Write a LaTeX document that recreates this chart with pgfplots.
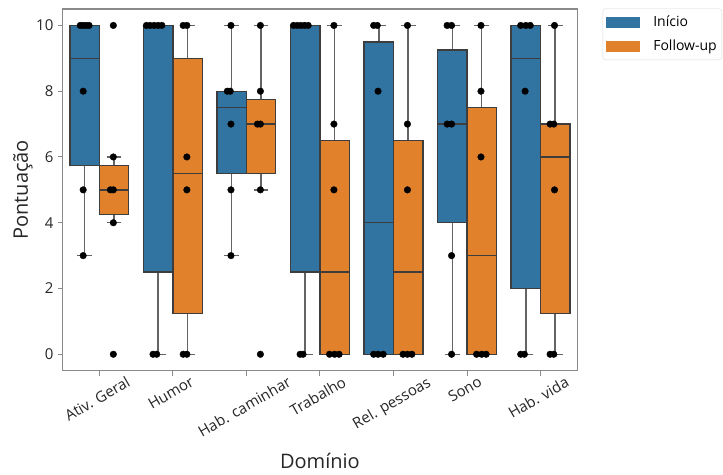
\documentclass[border=0pt]{standalone}
\usepackage{pgfplots}
\pgfplotsset{compat=1.18}
\usepgfplotslibrary{statistics}
\usepackage{fontspec}
\setmainfont{Open Sans}

\definecolor{boxblue}{HTML}{3274A1}
\definecolor{boxorange}{HTML}{E1812C}
\definecolor{boxedge}{HTML}{3D3D3D}
\definecolor{spine}{HTML}{8A8A8A}

% Rotated tick label whose bounding box is centred under the tick (top-centre anchoring)
\newsavebox\ticklabbox
\newlength\ticklabw
\newlength\ticklabh
\newcommand\slantlabel[1]{%
  \sbox\ticklabbox{\vphantom{Ag}#1}%
  \setlength\ticklabw{\wd\ticklabbox}%
  \setlength\ticklabh{\dimexpr\ht\ticklabbox+\dp\ticklabbox\relax}%
  \raisebox{0pt}[\dimexpr0.2165\ticklabw+0.875\ticklabh-\dp\ticklabbox\relax][\dp\ticklabbox]{%
    \makebox[\dimexpr1.25\ticklabw+0.433\ticklabh\relax][l]{\usebox\ticklabbox}}%
}

\begin{document}
\begin{tikzpicture}
\begin{axis}[
  name=ax,
  scale only axis,
  width=514.7pt, height=361.7pt,
  xmin=-0.5, xmax=6.5, ymin=-0.5, ymax=10.5,
  xtick={0,1,2,3,4,5,6},
  xticklabels={\slantlabel{Ativ. Geral},\slantlabel{Humor},\slantlabel{Hab. caminhar},\slantlabel{Trabalho},\slantlabel{Rel. pessoas},\slantlabel{Sono},\slantlabel{Hab. vida}},
  ytick={0,2,4,6,8,10},
  tick pos=left,
  tick align=outside,
  major tick length=5pt,
  axis line style={spine, line width=1.1pt},
  every tick/.style={spine, line width=1pt},
  /pgf/number format/assume math mode=true,
  ticklabel style={font=\fontsize{15}{18}\selectfont, text=black!85},
  % shifts are given in the rotated frame of the label
  xticklabel style={rotate=30, anchor=north, inner sep=0pt, xshift=-1.1pt, yshift=0.8pt},
  yticklabel style={inner sep=0pt, xshift=-4pt},
  ylabel={Pontuação},
  xlabel={Domínio},
  label style={font=\fontsize{20}{24}\selectfont, text=black!85},
  ylabel style={at={(axis description cs:-0.077,0.5)}, anchor=center},
  xlabel style={at={(axis description cs:0.5,-0.27)}, anchor=base},
  boxplot/draw direction=y,
  boxplot/box extend=0.4,
  boxplot/whisker extend=0.2,
  boxplot/every median/.style={draw=boxedge, line width=1.3pt},
  boxplot/every whisker/.style={draw=boxedge!80, line width=1.5pt},
  boxplot/every box/.style={draw=boxedge, line width=1.3pt},
  legend style={at={(1,1)}, anchor=north west, xshift=25.4pt, yshift=0.7pt,
    draw=black!15, rounded corners=3pt, fill=white,
    font=\fontsize{14}{17}\selectfont, inner xsep=3pt, inner ysep=5.5pt, row sep=8pt,
    /tikz/every odd column/.append style={column sep=12pt}},
  legend cell align=left,
]

% Início
\addplot[forget plot, fill=boxblue, draw=boxedge, boxplot prepared={draw position=-0.2, lower whisker=3, lower quartile=5.75, median=9, upper quartile=10, upper whisker=10}] coordinates {};
\addplot[forget plot, fill=boxblue, draw=boxedge, boxplot prepared={draw position=0.8, lower whisker=0, lower quartile=2.5, median=10, upper quartile=10, upper whisker=10}] coordinates {};
\addplot[forget plot, fill=boxblue, draw=boxedge, boxplot prepared={draw position=1.8, lower whisker=3, lower quartile=5.5, median=7.5, upper quartile=8, upper whisker=10}] coordinates {};
\addplot[forget plot, fill=boxblue, draw=boxedge, boxplot prepared={draw position=2.8, lower whisker=0, lower quartile=2.5, median=10, upper quartile=10, upper whisker=10}] coordinates {};
\addplot[forget plot, fill=boxblue, draw=boxedge, boxplot prepared={draw position=3.8, lower whisker=0, lower quartile=0, median=4, upper quartile=9.5, upper whisker=10}] coordinates {};
\addplot[forget plot, fill=boxblue, draw=boxedge, boxplot prepared={draw position=4.8, lower whisker=0, lower quartile=4, median=7, upper quartile=9.25, upper whisker=10}] coordinates {};
\addplot[forget plot, fill=boxblue, draw=boxedge, boxplot prepared={draw position=5.8, lower whisker=0, lower quartile=2, median=9, upper quartile=10, upper whisker=10}] coordinates {};

% Follow-up
\addplot[forget plot, fill=boxorange, draw=boxedge, boxplot prepared={draw position=0.2, lower whisker=4, lower quartile=4.25, median=5, upper quartile=5.75, upper whisker=6}] coordinates {};
\addplot[forget plot, fill=boxorange, draw=boxedge, boxplot prepared={draw position=1.2, lower whisker=0, lower quartile=1.25, median=5.5, upper quartile=9, upper whisker=10}] coordinates {};
\addplot[forget plot, fill=boxorange, draw=boxedge, boxplot prepared={draw position=2.2, lower whisker=5, lower quartile=5.5, median=7, upper quartile=7.75, upper whisker=10}] coordinates {};
\addplot[forget plot, fill=boxorange, draw=boxedge, boxplot prepared={draw position=3.2, lower whisker=0, lower quartile=0, median=2.5, upper quartile=6.5, upper whisker=10}] coordinates {};
\addplot[forget plot, fill=boxorange, draw=boxedge, boxplot prepared={draw position=4.2, lower whisker=0, lower quartile=0, median=2.5, upper quartile=6.5, upper whisker=10}] coordinates {};
\addplot[forget plot, fill=boxorange, draw=boxedge, boxplot prepared={draw position=5.2, lower whisker=0, lower quartile=0, median=3, upper quartile=7.5, upper whisker=10}] coordinates {};
\addplot[forget plot, fill=boxorange, draw=boxedge, boxplot prepared={draw position=6.2, lower whisker=0, lower quartile=1.25, median=6, upper quartile=7, upper whisker=10}] coordinates {};

% individual responses
\addplot[forget plot, only marks, mark=*, mark size=3.3pt, black] coordinates {
  % Ativ. Geral
  (-0.26,10) (-0.22,10) (-0.18,10) (-0.14,10) (-0.22,8) (-0.22,5) (-0.22,3)
  (0.19,10) (0.19,6) (0.15,5) (0.19,5) (0.19,4) (0.19,0)
  % Humor
  (0.64,10) (0.69,10) (0.745,10) (0.80,10) (0.85,10) (0.73,0) (0.78,0)
  (1.14,10) (1.19,10) (1.19,6) (1.19,5) (1.14,0) (1.19,0)
  % Hab. caminhar
  (1.79,10) (1.74,8) (1.78,8) (1.79,7) (1.79,5) (1.79,3)
  (2.19,10) (2.19,8) (2.15,7) (2.19,7) (2.19,5) (2.19,0)
  % Trabalho
  (2.64,10) (2.69,10) (2.74,10) (2.79,10) (2.84,10) (2.73,0) (2.77,0)
  (3.19,10) (3.19,7) (3.19,5) (3.13,0) (3.20,0) (3.26,0)
  % Rel. pessoas
  (3.73,10) (3.78,10) (3.79,8) (3.73,0) (3.79,0) (3.86,0)
  (4.19,10) (4.19,7) (4.19,5) (4.13,0) (4.19,0) (4.25,0)
  % Sono
  (4.73,10) (4.79,10) (4.73,7) (4.79,7) (4.79,3) (4.79,0)
  (5.19,10) (5.19,8) (5.19,6) (5.13,0) (5.20,0) (5.26,0)
  % Hab. vida
  (5.73,10) (5.80,10) (5.86,10) (5.79,8) (5.73,0) (5.78,0)
  (6.19,10) (6.13,7) (6.18,7) (6.19,5) (6.13,0) (6.18,0)
};

\addlegendimage{area legend, legend image code/.code={\fill[boxblue, sharp corners] (0pt,-5pt) rectangle (33pt,5pt);}}
\addlegendentry{Início}
\addlegendimage{area legend, legend image code/.code={\fill[boxorange, sharp corners] (0pt,-5pt) rectangle (33pt,5pt);}}
\addlegendentry{Follow-up}
\end{axis}
\pgfresetboundingbox
\path[use as bounding box] ([xshift=-62.6pt,yshift=-103.3pt]ax.south west) rectangle ([xshift=145.7pt,yshift=9pt]ax.north east);
\end{tikzpicture}
\end{document}
